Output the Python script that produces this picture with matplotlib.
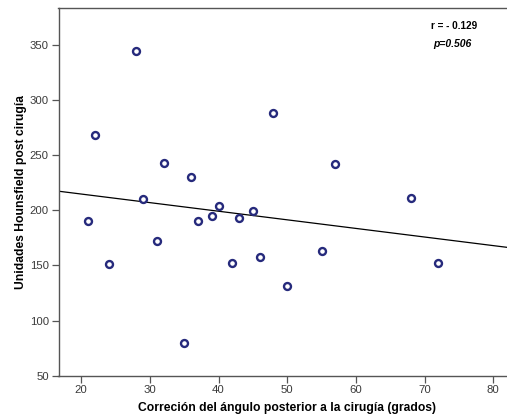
#!/usr/bin/env python3
# -*- coding: utf-8 -*-

import numpy as np
import matplotlib
matplotlib.use("Agg")
import matplotlib.pyplot as plt

# valores
correccion = [21, 22, 24, 28, 29, 31, 32, 35, 36, 37, 39,
              40, 42, 43, 45, 46, 48, 50, 55, 57, 68, 72]
hounsfield = [190, 268, 151, 345, 210, 172, 243, 80, 230, 190, 195,
              204, 152, 193, 199, 158, 288, 131, 163, 242, 211, 152]
x_ticks = [20, 30, 40, 50, 60, 70, 80]
y_ticks = [50, 100, 150, 200, 250, 300, 350]

plt.rcParams['font.family'] = ['Liberation Sans', 'DejaVu Sans']

fig = plt.figure(figsize=(5.07, 4.18), dpi=100)
ax = fig.add_axes([58.5 / 507, 1 - 375.7 / 418, (507 - 58.5) / 507, (375.7 - 8.3) / 418])

ax.set_xlim(16.7, 82.0)
ax.set_ylim(50, 383.3)

# recta de regresión
m, c = np.polyfit(correccion, hounsfield, 1)
xs = np.array(ax.get_xlim())
ax.plot(xs, m * xs + c, color='black', lw=0.9, zorder=2)

ax.plot(correccion, hounsfield, 'o', ms=5.0, mew=1.7, mfc='white',
        mec='#262a7c', zorder=3, clip_on=False)

ax.set_xticks(x_ticks)
ax.set_yticks(y_ticks)
ax.tick_params(axis='both', direction='out', length=5, width=0.9, color='#555555',
               labelsize=8.2, labelcolor='#3a3a3a', pad=2)
for s in ['left', 'bottom', 'top']:
    ax.spines[s].set_color('#555555')
    ax.spines[s].set_linewidth(1.0)
ax.spines['right'].set_visible(False)

ax.set_xlabel('Correción del ángulo posterior a la cirugía (grados)',
              fontsize=8.7, fontweight='bold', labelpad=4)
ax.xaxis.set_label_coords(0.509, -0.072)
ax.set_ylabel('Unidades Hounsfield post cirugía',
              fontsize=8.7, fontweight='bold', labelpad=2)

fig.text(454.5 / 507, 1 - 26 / 418, 'r = - 0.129', fontsize=7.2, fontweight='bold',
         ha='center', va='center')
fig.text(452.5 / 507, 1 - 44 / 418, 'p=0.506', fontsize=7.5, fontweight='bold',
         fontstyle='italic', ha='center', va='center')

fig.savefig('out.png', dpi=100)
